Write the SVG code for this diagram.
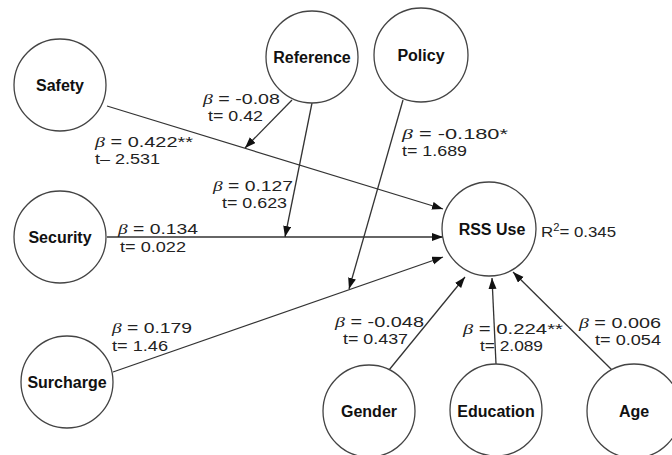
<svg xmlns="http://www.w3.org/2000/svg" width="672" height="455" viewBox="0 0 672 455">
<defs>
<marker id="arr" markerUnits="userSpaceOnUse" markerWidth="12" markerHeight="10" refX="11" refY="4" orient="auto">
<path d="M0,0 L11,4 L0,8 Z" fill="#111"/>
</marker>
<style>
.n circle{fill:#fff;stroke:#444;stroke-width:1.3}
.n text{font-family:"Liberation Sans",Arial,sans-serif;font-weight:bold;font-size:16px;fill:#111;text-anchor:middle}
.c line{stroke:#333;stroke-width:1.3;fill:none}
.c line.a{marker-end:url(#arr)}
.l{font-family:"Liberation Sans",Arial,sans-serif;font-size:15px;fill:#222}
.b{font-family:"Liberation Serif",serif;font-style:italic}
</style>
</defs>
<rect width="672" height="455" fill="#fff"/>
<g id="connectors" class="c">
<line class="a" x1="107" y1="106" x2="443" y2="209"/>
<line class="a" x1="107" y1="237" x2="443" y2="237"/>
<line class="a" x1="113" y1="372" x2="443" y2="257"/>
<line class="a" x1="292" y1="100" x2="245" y2="148"/>
<line class="a" x1="312" y1="103" x2="285" y2="237"/>
<line class="a" x1="403" y1="100" x2="349" y2="289"/>
<line class="a" x1="389" y1="370" x2="465" y2="277"/>
<line class="a" x1="496" y1="364" x2="492" y2="278"/>
<line class="a" x1="612" y1="370" x2="513" y2="272"/>
</g>
<g id="safety" class="n"><circle cx="60" cy="85" r="46"/><text x="60" y="91">Safety</text></g>
<g id="reference" class="n"><circle cx="312" cy="57" r="46"/><text x="312" y="63">Reference</text></g>
<g id="policy" class="n"><circle cx="421" cy="55" r="47"/><text x="421" y="61">Policy</text></g>
<g id="security" class="n"><circle cx="60" cy="237" r="46"/><text x="60" y="243">Security</text></g>
<g id="surcharge" class="n"><circle cx="67" cy="382" r="46"/><text x="67" y="388">Surcharge</text></g>
<g id="rss-use" class="n"><circle cx="489" cy="229" r="47"/><text x="492" y="235">RSS Use</text></g>
<g id="gender" class="n"><circle cx="369" cy="411" r="46"/><text x="369" y="417">Gender</text></g>
<g id="education" class="n"><circle cx="496" cy="410" r="46"/><text x="496" y="417">Education</text></g>
<g id="age" class="n"><circle cx="634" cy="411" r="47"/><text x="634" y="417">Age</text></g>
<g id="labels">
<text class="l" x="203" y="104" textLength="77" lengthAdjust="spacingAndGlyphs"><tspan class="b">β</tspan> = -0.08</text>
<text class="l" x="208" y="121" textLength="55" lengthAdjust="spacingAndGlyphs">t= 0.42</text>
<text class="l" x="95" y="147" textLength="98" lengthAdjust="spacingAndGlyphs"><tspan class="b">β</tspan> = 0.422**</text>
<text class="l" x="95" y="164" textLength="65" lengthAdjust="spacingAndGlyphs">t– 2.531</text>
<text class="l" x="213" y="191" textLength="80" lengthAdjust="spacingAndGlyphs"><tspan class="b">β</tspan> = 0.127</text>
<text class="l" x="222" y="208" textLength="65" lengthAdjust="spacingAndGlyphs">t= 0.623</text>
<text class="l" x="118" y="234" textLength="80" lengthAdjust="spacingAndGlyphs"><tspan class="b">β</tspan> = 0.134</text>
<text class="l" x="120" y="252" textLength="66" lengthAdjust="spacingAndGlyphs">t= 0.022</text>
<text class="l" x="402" y="139" textLength="106" lengthAdjust="spacingAndGlyphs"><tspan class="b">β</tspan> = -0.180*</text>
<text class="l" x="402" y="156" textLength="65" lengthAdjust="spacingAndGlyphs">t= 1.689</text>
<text class="l" x="541" y="237" textLength="75" lengthAdjust="spacingAndGlyphs">R<tspan dy="-6" font-size="10">2</tspan><tspan dy="6">= 0.345</tspan></text>
<text class="l" x="112" y="333" textLength="80" lengthAdjust="spacingAndGlyphs"><tspan class="b">β</tspan> = 0.179</text>
<text class="l" x="112" y="351" textLength="56" lengthAdjust="spacingAndGlyphs">t= 1.46</text>
<text class="l" x="335" y="327" textLength="89" lengthAdjust="spacingAndGlyphs"><tspan class="b">β</tspan> = -0.048</text>
<text class="l" x="343" y="344" textLength="65" lengthAdjust="spacingAndGlyphs">t= 0.437</text>
<text class="l" x="463" y="334" textLength="100" lengthAdjust="spacingAndGlyphs"><tspan class="b">β</tspan> = 0.224**</text>
<text class="l" x="480" y="351" textLength="63" lengthAdjust="spacingAndGlyphs">t= 2.089</text>
<text class="l" x="579" y="328" textLength="82" lengthAdjust="spacingAndGlyphs"><tspan class="b">β</tspan> = 0.006</text>
<text class="l" x="595" y="345" textLength="66" lengthAdjust="spacingAndGlyphs">t= 0.054</text>
</g>
</svg>
